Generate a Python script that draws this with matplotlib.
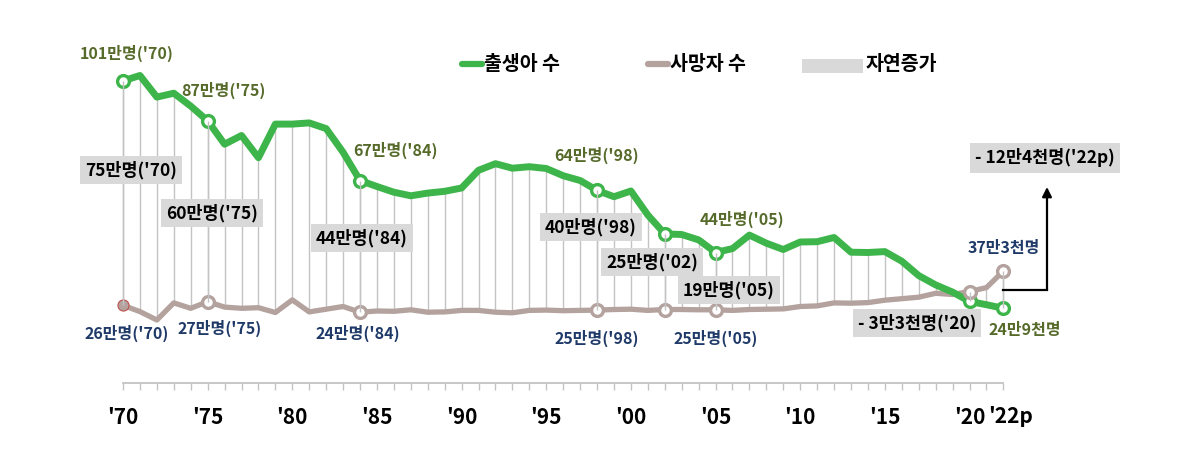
import numpy as np
import matplotlib
matplotlib.use('Agg')
from matplotlib import pyplot as plt
from matplotlib.lines import Line2D
from matplotlib.patches import Rectangle

plt.rcParams['font.family'] = ['Noto Sans CJK KR', 'DejaVu Sans']

# births / deaths, unit: 10,000 persons (만명), 1970 .. 2022
years = np.arange(1970, 2023)
births = [100.7, 102.5, 95.3, 96.6, 92.3, 87.4, 79.6, 82.5, 75.1, 86.3,
          86.3, 86.7, 84.8, 76.9, 67.5, 65.5, 63.6, 62.4, 63.3, 63.9,
          65.0, 70.9, 73.1, 71.6, 72.1, 71.5, 69.1, 67.5, 64.2, 62.1,
          64.0, 56.0, 49.7, 49.5, 47.7, 43.5, 44.8, 49.3, 46.6, 44.5,
          47.0, 47.1, 48.5, 43.6, 43.5, 43.8, 40.6, 35.8, 32.7, 30.3,
          27.2, 26.1, 24.9]
deaths = [25.9, 23.8, 21.0, 26.7, 24.9, 27.1, 25.3, 24.9, 25.1, 23.5,
          27.7, 23.7, 24.6, 25.5, 23.6, 24.0, 23.9, 24.4, 23.6, 23.7,
          24.2, 24.2, 23.6, 23.4, 24.2, 24.3, 24.1, 24.2, 24.3, 24.5,
          24.6, 24.2, 24.5, 24.5, 24.4, 24.4, 24.2, 24.5, 24.6, 24.7,
          25.5, 25.7, 26.7, 26.6, 26.8, 27.6, 28.1, 28.6, 29.9, 29.5,
          30.5, 31.8, 37.3]
marked_years = [1970, 1975, 1984, 1998, 2002, 2005, 2020, 2022]
major_years = [1970, 1975, 1980, 1985, 1990, 1995, 2000, 2005, 2010, 2015, 2020, 2022]
major_labels = ["'70", "'75", "'80", "'85", "'90", "'95", "'00", "'05", "'10", "'15", "'20", "'22p"]

GREEN = '#3db54a'
TAUPE = '#b3a29d'
GRID = '#c3c3c3'
OLIVE = '#566a2a'
NAVY = '#1f3a68'
BOX = '#d9d9d9'

W, H = 1200, 471
X0, DX = 123, 16.93      # pixel of 1970, pixels per year
AXIS_PY = 383            # pixel row of the x axis
PPU = 3.0                # pixels per 만명

births = np.array(births)
deaths = np.array(deaths)

fig = plt.figure(figsize=(W / 100, H / 100), dpi=100)
ax = fig.add_axes([0, (H - AXIS_PY) / H, 1, AXIS_PY / H])
ax.set_xlim(1970 - X0 / DX, 1970 + (W - X0) / DX)
ax.set_ylim(0, AXIS_PY / PPU)

# natural increase shown as vertical lines between the two series
ax.vlines(years, np.minimum(births, deaths), np.maximum(births, deaths),
          color=GRID, lw=1.0, zorder=2)

ax.plot(years, deaths, color=TAUPE, lw=3.8, solid_capstyle='round',
        solid_joinstyle='round', zorder=3)
ax.plot(years, births, color=GREEN, lw=5.0, solid_capstyle='round',
        solid_joinstyle='round', zorder=4)

idx = [int(y - 1970) for y in marked_years]
ax.plot(years[idx], births[idx], ls='none', marker='o', ms=8.5, mfc='white',
        mec=GREEN, mew=2.4, zorder=5)
ax.plot(years[idx[1:]], deaths[idx[1:]], ls='none', marker='o', ms=8.5,
        mfc='white', mec=TAUPE, mew=2.4, zorder=5)
ax.plot(years[idx[:1]], deaths[idx[:1]], ls='none', marker='o', ms=8,
        mfc=TAUPE, mec='#c0504d', mew=0.8, zorder=5)
ax.vlines(years[idx], np.minimum(births[idx], deaths[idx]),
          np.maximum(births[idx], deaths[idx]), color=GRID, lw=1.0, zorder=6)

# x axis
for s in ['top', 'left', 'right']:
    ax.spines[s].set_visible(False)
ax.spines['bottom'].set_color(GRID)
ax.spines['bottom'].set_linewidth(1.3)
ax.spines['bottom'].set_bounds(1970, 2022)
ax.set_yticks([])
ax.set_xticks(major_years[:-1], major_labels[:-1])
ax.set_xticks(years, minor=True)
ax.tick_params(axis='x', which='both', direction='out', length=5, width=1,
               color=GRID)
ax.tick_params(axis='x', which='major', labelsize=15, pad=12)
for lab in ax.get_xticklabels():
    lab.set_fontweight('bold')
# last label sits just right of '20, as in the source
ax.annotate(major_labels[-1], xy=(major_years[-1], 0),
            xycoords=('data', 'axes fraction'), xytext=(-15, -33.5),
            textcoords='offset pixels', ha='left', va='center',
            fontsize=15, fontweight='bold')


def put(txt, px, py, color='black', size=12.5, box=False):
    kw = dict(ha='center', va='center', color=color, fontsize=size,
              fontweight='bold')
    if box:
        kw['bbox'] = dict(boxstyle='square,pad=0.3', fc=BOX, ec='none')
    fig.text(px / W, 1 - py / H, txt, **kw)


# births labels
put("101만명('70)", 127, 53, OLIVE, 11.5)
put("87만명('75)", 223, 90, OLIVE, 11.5)
put("67만명('84)", 395, 150, OLIVE, 11.5)
put("64만명('98)", 597, 155, OLIVE, 11.5)
put("44만명('05)", 742, 219, OLIVE, 11.5)
put("24만9천명", 1025, 330, OLIVE, 11.5)

# deaths labels
put("26만명('70)", 127, 333, NAVY, 11.5)
put("27만명('75)", 220, 328, NAVY, 11.5)
put("24만명('84)", 358, 333, NAVY, 11.5)
put("25만명('98)", 597, 338, NAVY, 11.5)
put("25만명('05)", 716, 338, NAVY, 11.5)
put("37만3천명", 1004, 248, NAVY, 11.5)

# natural increase boxes
put("75만명('70)", 131, 170, box=True)
put("60만명('75)", 212, 213, box=True)
put("44만명('84)", 362, 238, box=True)
put("40만명('98)", 591, 227, box=True)
put("25만명('02)", 652, 262, box=True)
put("19만명('05)", 729, 290, box=True)
put("- 3만3천명('20)", 917, 323, box=True)
put("- 12만4천명('22p)", 1045, 158, box=True)

# elbow arrow from the 2022 gap
mid22 = (births[-1] + deaths[-1]) / 2
x_turn = 1970 + (1047 - X0) / DX
y_tip = (AXIS_PY - 187) / PPU
ax.plot([2022, x_turn], [mid22, mid22], color='black', lw=1.6, zorder=6)
ax.annotate('', xy=(x_turn, y_tip), xytext=(x_turn, mid22),
            arrowprops=dict(arrowstyle='-|>', color='black', lw=1.6,
                            mutation_scale=14, shrinkA=0, shrinkB=0))

# legend
ly = 1 - 64 / H
fig.add_artist(Line2D([462 / W, 482 / W], [ly, ly], color=GREEN, lw=4.5,
                      solid_capstyle='round'))
fig.text(484 / W, ly, '출생아 수', ha='left', va='center', fontsize=14,
         fontweight='bold')
fig.add_artist(Line2D([648 / W, 668 / W], [ly, ly], color=TAUPE, lw=4.5,
                      solid_capstyle='round'))
fig.text(670 / W, ly, '사망자 수', ha='left', va='center', fontsize=14,
         fontweight='bold')
fig.add_artist(Rectangle((802 / W, 1 - 73 / H), 61 / W, 14 / H,
                         transform=fig.transFigure, fc=BOX, ec='none'))
fig.text(866 / W, ly, '자연증가', ha='left', va='center', fontsize=14,
         fontweight='bold')

fig.savefig('out.png', dpi=100)
